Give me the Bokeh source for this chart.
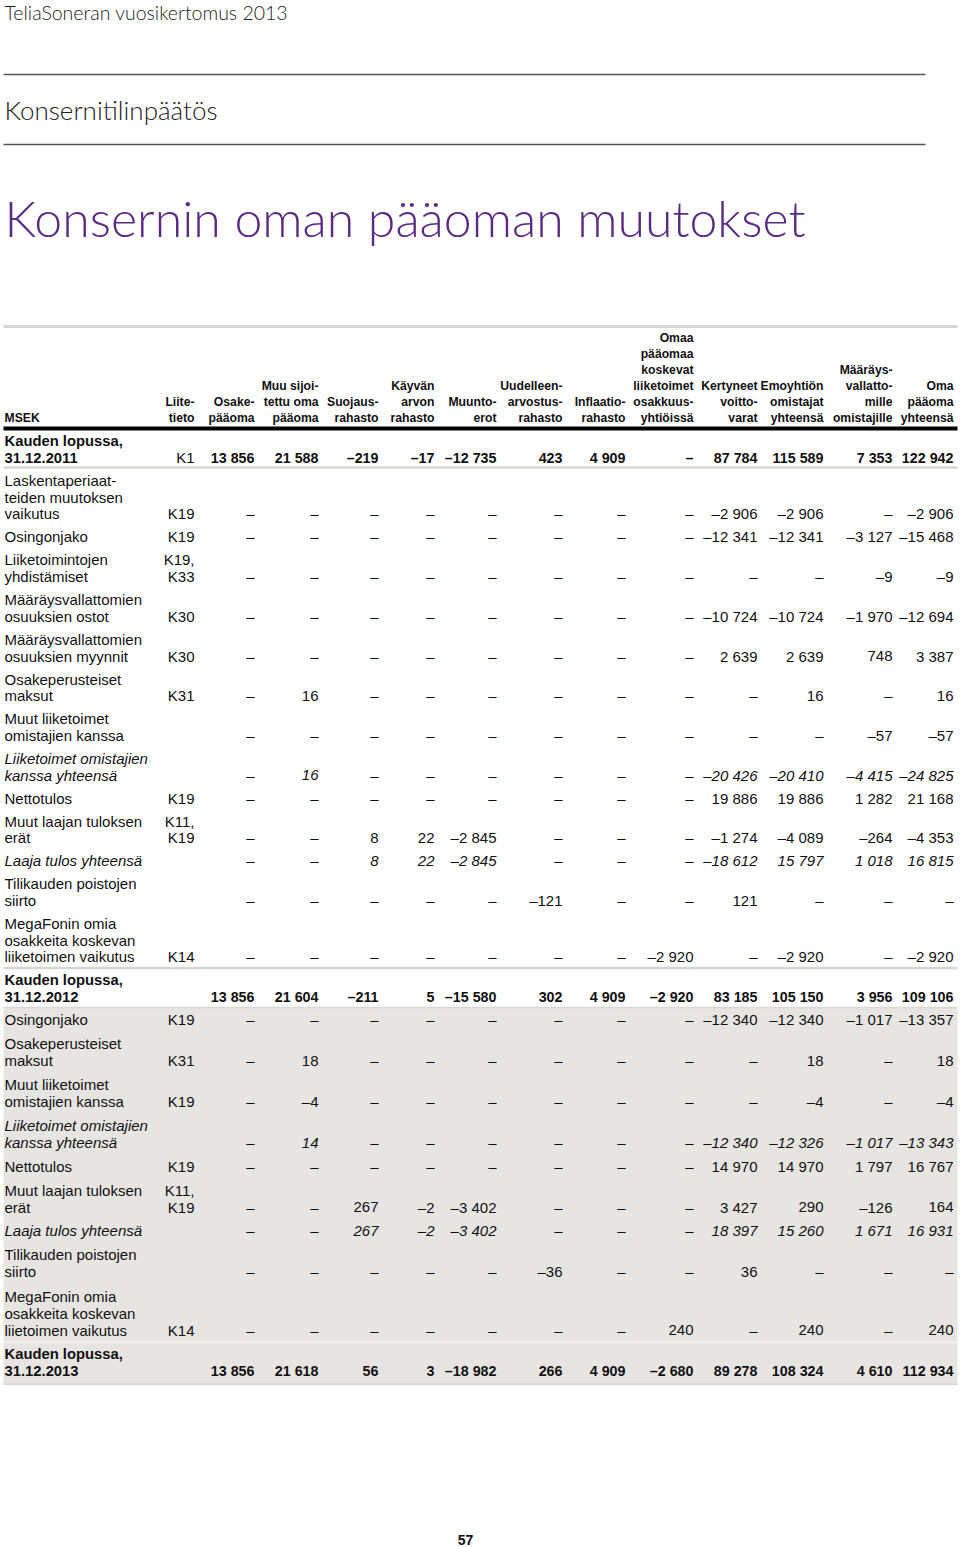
from bokeh.plotting import figure
from bokeh.models import Range1d, ColumnDataSource
from bokeh.embed import file_html
from bokeh.resources import INLINE
from bokeh.core.properties import value

# ---------------- data ----------------
N = None
page_header = "TeliaSoneran vuosikertomus 2013"
section_title = "Konsernitilinpäätös"
chart_title = "Konsernin oman pääoman muutokset"
page_number = "57"
unit_label = "MSEK"

column_headers = [
    "Liite-\ntieto",
    "Osake-\npääoma",
    "Muu sijoi-\ntettu oma\npääoma",
    "Suojaus-\nrahasto",
    "Käyvän\narvon\nrahasto",
    "Muunto-\nerot",
    "Uudelleen-\narvostus-\nrahasto",
    "Inflaatio-\nrahasto",
    "Omaa\npääomaa\nkoskevat\nliiketoimet\nosakkuus-\nyhtiöissä",
    "Kertyneet\nvoitto-\nvarat",
    "Emoyhtiön\nomistajat\nyhteensä",
    "Määräys-\nvallatto-\nmille\nomistajille",
    "Oma\npääoma\nyhteensä",
]

row_labels = [
    "Kauden lopussa,\n31.12.2011",
    "Laskentaperiaat-\nteiden muutoksen\nvaikutus",
    "Osingonjako",
    "Liiketoimintojen\nyhdistämiset",
    "Määräysvallattomien\nosuuksien ostot",
    "Määräysvallattomien\nosuuksien myynnit",
    "Osakeperusteiset\nmaksut",
    "Muut liiketoimet\nomistajien kanssa",
    "Liiketoimet omistajien\nkanssa yhteensä",
    "Nettotulos",
    "Muut laajan tuloksen\nerät",
    "Laaja tulos yhteensä",
    "Tilikauden poistojen\nsiirto",
    "MegaFonin omia\nosakkeita koskevan\nliiketoimen vaikutus",
    "Kauden lopussa,\n31.12.2012",
    "Osingonjako",
    "Osakeperusteiset\nmaksut",
    "Muut liiketoimet\nomistajien kanssa",
    "Liiketoimet omistajien\nkanssa yhteensä",
    "Nettotulos",
    "Muut laajan tuloksen\nerät",
    "Laaja tulos yhteensä",
    "Tilikauden poistojen\nsiirto",
    "MegaFonin omia\nosakkeita koskevan\nliietoimen vaikutus",
    "Kauden lopussa,\n31.12.2013",
]

row_kind = ["total", "item", "item", "item", "item", "item", "item", "item", "sub",
            "item", "item", "sub", "item", "item", "total",
            "item", "item", "item", "sub", "item", "item", "sub", "item", "item", "total"]

liitetieto = ["K1", "K19", "K19", "K19,\nK33", "K30", "K30", "K31", "", "", "K19",
              "K11,\nK19", "", "", "K14", "",
              "K19", "K31", "K19", "", "K19", "K11,\nK19", "", "", "K14", ""]

osakepaaoma = [13856, N, N, N, N, N, N, N, N, N, N, N, N, N, 13856,
               N, N, N, N, N, N, N, N, N, 13856]
muu_sijoitettu = [21588, N, N, N, N, N, 16, N, 16, N, N, N, N, N, 21604,
                  N, 18, -4, 14, N, N, N, N, N, 21618]
suojausrahasto = [-219, N, N, N, N, N, N, N, N, N, 8, 8, N, N, -211,
                  N, N, N, N, N, 267, 267, N, N, 56]
kayvan_arvon = [-17, N, N, N, N, N, N, N, N, N, 22, 22, N, N, 5,
                N, N, N, N, N, -2, -2, N, N, 3]
muuntoerot = [-12735, N, N, N, N, N, N, N, N, N, -2845, -2845, N, N, -15580,
              N, N, N, N, N, -3402, -3402, N, N, -18982]
uudelleenarvostus = [423, N, N, N, N, N, N, N, N, N, N, N, -121, N, 302,
                     N, N, N, N, N, N, N, -36, N, 266]
inflaatio = [4909, N, N, N, N, N, N, N, N, N, N, N, N, N, 4909,
             N, N, N, N, N, N, N, N, N, 4909]
osakkuusyhtiot = [N, N, N, N, N, N, N, N, N, N, N, N, N, -2920, -2920,
                  N, N, N, N, N, N, N, N, 240, -2680]
kertyneet = [87784, -2906, -12341, N, -10724, 2639, N, N, -20426, 19886, -1274, -18612, 121, N, 83185,
             -12340, N, N, -12340, 14970, 3427, 18397, 36, N, 89278]
emoyhtio = [115589, -2906, -12341, N, -10724, 2639, 16, N, -20410, 19886, -4089, 15797, N, -2920, 105150,
            -12340, 18, -4, -12326, 14970, 290, 15260, N, 240, 108324]
maaraysvallattomat = [7353, N, -3127, -9, -1970, 748, N, -57, -4415, 1282, -264, 1018, N, N, 3956,
                      -1017, N, N, -1017, 1797, -126, 1671, N, N, 4610]
oma_paaoma = [122942, -2906, -15468, -9, -12694, 3387, 16, -57, -24825, 21168, -4353, 16815, N, -2920, 109106,
              -13357, 18, -4, -13343, 16767, 164, 16931, N, 240, 112934]

value_columns = [osakepaaoma, muu_sijoitettu, suojausrahasto, kayvan_arvon, muuntoerot,
                 uudelleenarvostus, inflaatio, osakkuusyhtiot, kertyneet, emoyhtio,
                 maaraysvallattomat, oma_paaoma]

# ---------------- layout / style ----------------
W, H = 960, 1547
FONT = "Liberation Sans"
LIGHT = "Lato Light, Liberation Sans"
INK = "#111111"
PURPLE = "#5a2a82"
col_right = [194, 254, 318, 378, 434, 496, 562, 625, 693, 757, 823, 892, 953]
label_x = 4
header_base = 417
header_ls = 16


def fmt(v):
    if v is None:
        return "\u2013"
    s = f"{abs(v):,}".replace(",", " ")
    return ("\u2013" + s) if v < 0 else s


p = figure(width=W, height=H, x_range=Range1d(0, W), y_range=Range1d(H, 0),
           output_backend="svg", toolbar_location=None, min_border=0,
           x_axis_location=None, y_axis_location=None)
p.grid.visible = False
p.outline_line_color = None
p.background_fill_color = "white"
p.border_fill_color = "white"

groups = {}


def add(x, y, s, size, style="normal", align="left", color=INK, font=FONT):
    key = (size, style, align, color, font)
    d = groups.setdefault(key, {"x": [], "y": [], "t": []})
    d["x"].append(x)
    d["y"].append(y)
    d["t"].append(s)


# row positions (centre of last text line), computed from number of lines
row_y = []
y = 457.0
for i, lab in enumerate(row_labels):
    n = lab.count("\n") + 1
    if i == 0:
        pass
    elif i <= 14:
        y += 23 + 16.7 * (n - 1)
    elif i == 15:
        y += 23
    else:
        y += 23.6 + 17.4 * (n - 1)
    row_y.append(y)

# shading of the 2013 block
shade_top = row_y[14] + 11
shade_bot = row_y[24] + 13
p.quad(left=[3], right=[957], top=[shade_top], bottom=[shade_bot],
       fill_color="#e6e5e2", line_color=None)

# rules
seg = dict(x0=[], y0=[], x1=[], y1=[], c=[], w=[])


def rule(x0, x1, yy, c, w):
    seg["x0"].append(x0); seg["x1"].append(x1)
    seg["y0"].append(yy); seg["y1"].append(yy)
    seg["c"].append(c); seg["w"].append(w)


rule(3, 925, 74, "#555555", 1.5)
rule(3, 925, 144, "#555555", 1.5)
rule(3, 957, 326, "#d6d6d4", 3)
rule(3, 957, 428, "#000000", 4)
rule(3, 957, row_y[0] + 10, "#d6d6d2", 2.5)
rule(3, 957, row_y[13] + 11, "#d6d6d2", 2.5)
rule(3, 957, shade_top, "#d9d8d5", 1.5)
rule(3, 957, row_y[23] + 12, "#f2f1ef", 2)
rule(3, 957, shade_bot, "#d6d5d2", 1.5)
p.segment(x0="x0", y0="y0", x1="x1", y1="y1", line_color="c", line_width="w",
          source=ColumnDataSource(seg))

# page texts
add(4, 12, page_header, 19.5, color="#222222", font=LIGHT)
add(4, 109, section_title, 26, color="#222222", font=LIGHT)
add(4, 217, chart_title, 50, color=PURPLE, font=LIGHT)
add(465, 1539, page_number, 14, style="bold", align="center")

# header
hsize = 12.2
add(label_x, header_base, unit_label, hsize, style="bold")
for xr, h in zip(col_right, column_headers):
    lines = h.split("\n")
    n = len(lines)
    for k, ln in enumerate(lines):
        add(xr, header_base - header_ls * (n - 1 - k), ln, hsize, style="bold", align="right")

# body
for i, lab in enumerate(row_labels):
    kind = row_kind[i]
    ls = 16.7 if i <= 14 else 17.0
    if kind == "total":
        lstyle, vstyle, lsize, vsize = "bold", "bold", 14.8, 14.3
    elif kind == "sub":
        lstyle, vstyle, lsize, vsize = "italic", "italic", 15, 15
    else:
        lstyle, vstyle, lsize, vsize = "normal", "normal", 15, 15
    lines = lab.split("\n")
    n = len(lines)
    for k, ln in enumerate(lines):
        add(label_x, row_y[i] - ls * (n - 1 - k), ln, lsize, style=lstyle)
    note = liitetieto[i]
    if note:
        nl = note.split("\n")
        for k, ln in enumerate(nl):
            add(col_right[0], row_y[i] - ls * (len(nl) - 1 - k), ln, 15, align="right")
    for c, col in enumerate(value_columns):
        add(col_right[c + 1], row_y[i], fmt(col[i]), vsize, style=vstyle, align="right")

for (size, style, align, color, font), d in groups.items():
    p.text(x="x", y="y", text="t", source=ColumnDataSource(d),
           text_font=value(font), text_font_size=value(f"{size}px"),
           text_font_style=value(style), text_align=value(align),
           text_baseline=value("middle"), text_color=value(color))

open("out.html", "w").write(file_html(p, INLINE))
